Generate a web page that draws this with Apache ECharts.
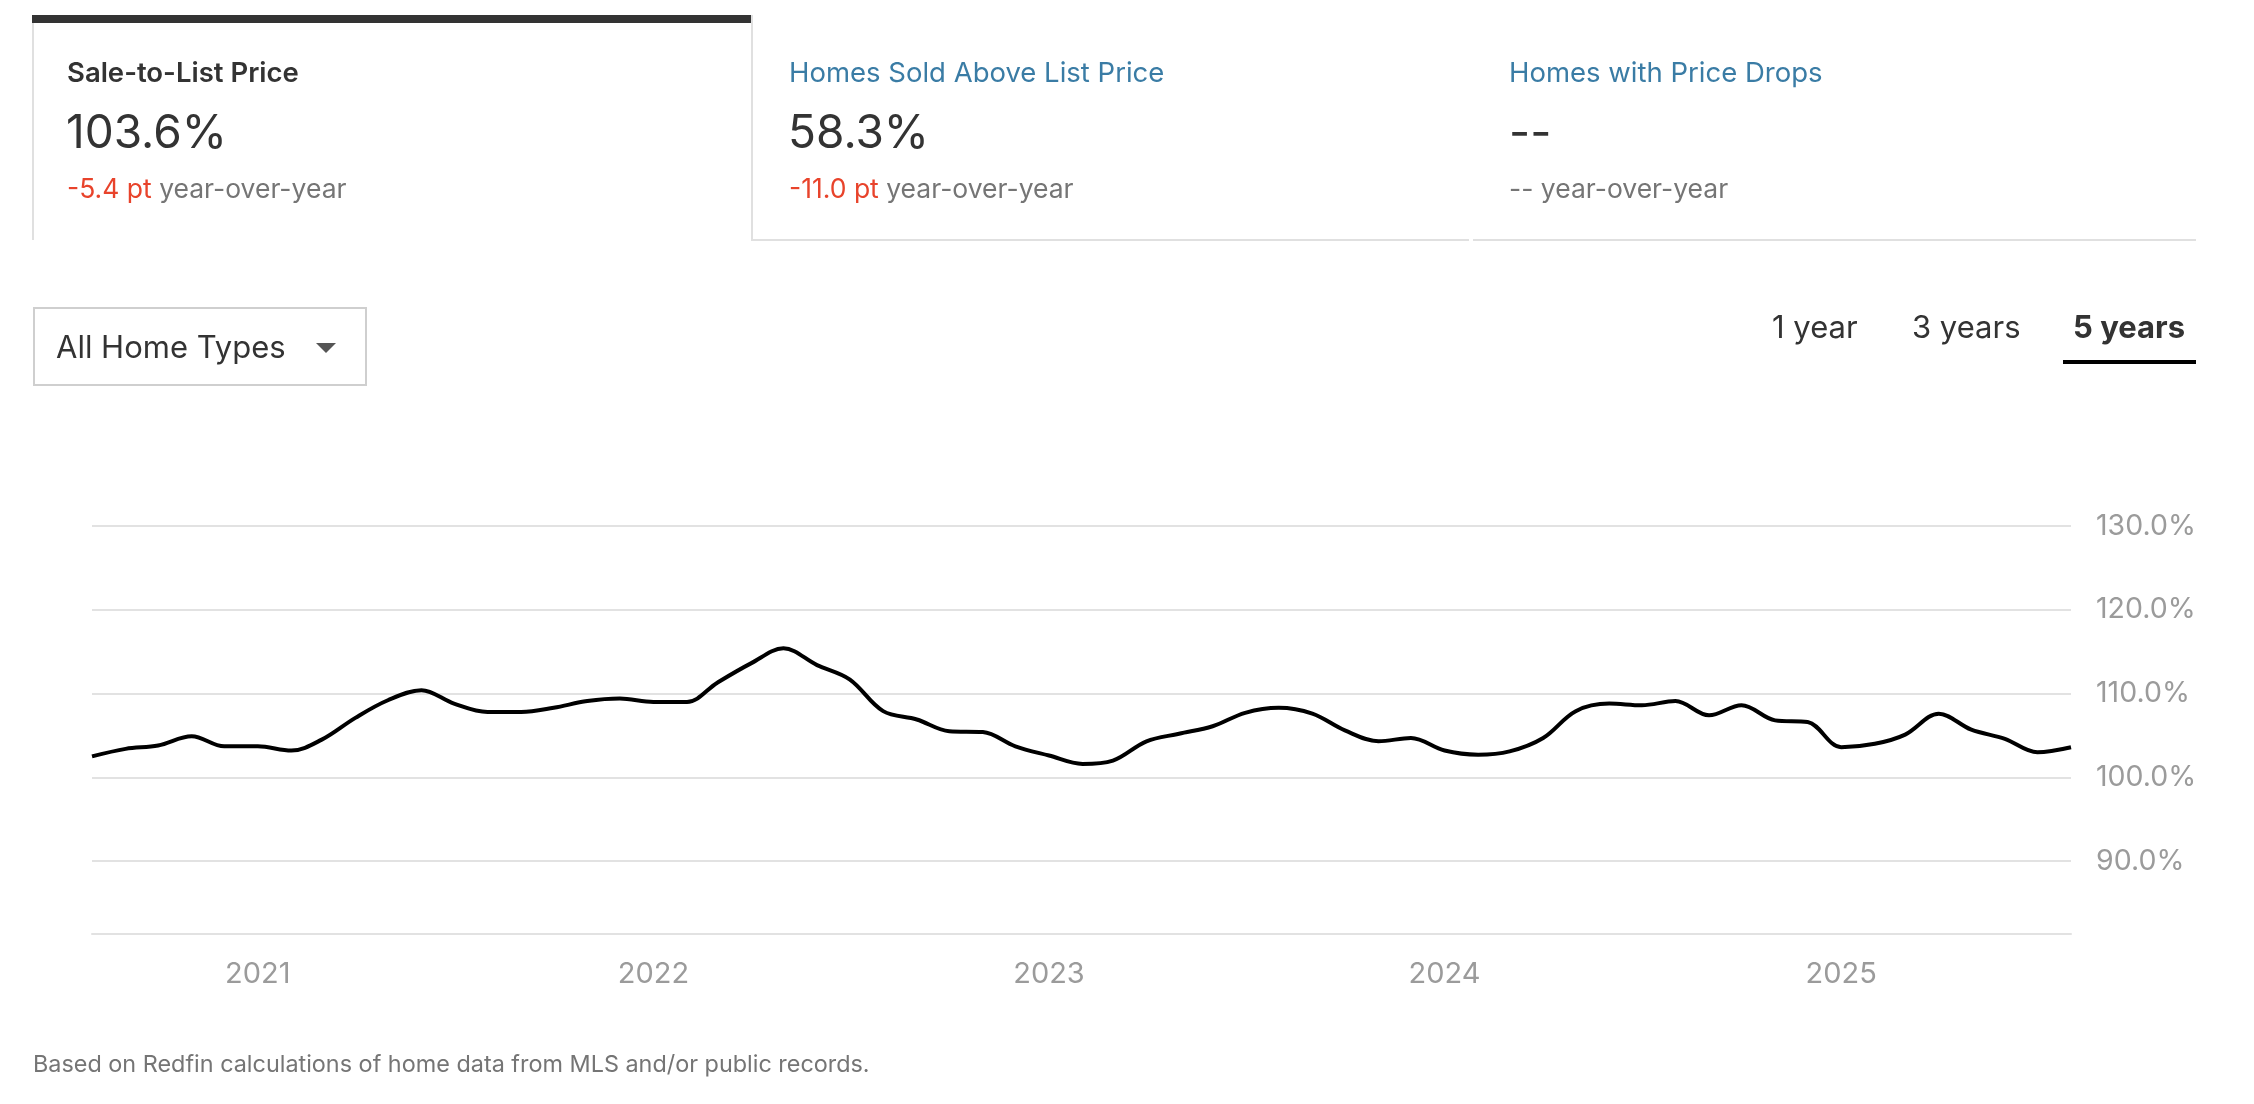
<!DOCTYPE html>
<html>
<head>
<meta charset="utf-8">
<script src="https://cdn.jsdelivr.net/npm/echarts@6/dist/echarts.min.js"></script>
<style>
  html, body { margin: 0; padding: 0; background: #fff; }
  body { width: 2254px; height: 1104px; position: relative; overflow: hidden; font-family: Inter, "Noto Sans", sans-serif; }
  #chart { position: absolute; left: 0; top: 0; width: 2254px; height: 1104px; z-index: 1; }
  .abs { position: absolute; z-index: 2; white-space: nowrap; line-height: 1.2; }
  .tab1 { position: absolute; left: 32px; top: 15px; width: 717px; height: 225px; border-left: 2px solid #e0e0e0; border-right: 2px solid #e0e0e0; z-index: 2; }
  .tab1bar { position: absolute; left: 32px; top: 15px; width: 719px; height: 8px; background: #333; z-index: 3; }
  .tabline { position: absolute; top: 239px; height: 2px; background: #e0e0e0; z-index: 2; }
  .title { font-size: 27.5px; }
  .t1 { color: #333; font-weight: 600; }
  .tl { color: #3a7ca5; }
  .val { font-size: 46px; color: #333; }
  .yoy { font-size: 26.5px; color: #757575; }
  .neg { color: #e8432b; }
  .dd { position: absolute; left: 33px; top: 307px; width: 330px; height: 75px; border: 2px solid #cfcfcf; z-index: 2; }
  .tri { position: absolute; left: 316px; top: 343px; width: 0; height: 0; border-left: 10px solid transparent; border-right: 10px solid transparent; border-top: 10px solid #555; z-index: 3; }
  .tog { font-size: 31px; color: #333; }
  .under { position: absolute; left: 2063px; top: 360px; width: 133px; height: 4px; background: #000; z-index: 2; }
  .foot { font-size: 23.4px; color: #757575; }
</style>
</head>
<body>
<div id="chart"></div>

<div class="tab1"></div>
<div class="tab1bar"></div>
<div class="tabline" style="left:751px;width:718px;"></div>
<div class="tabline" style="left:1473px;width:723px;"></div>

<div class="abs title t1" style="left:67px;top:56px;">Sale-to-List Price</div>
<div class="abs val" style="left:66px;top:104px;">103.6%</div>
<div class="abs yoy" style="left:67px;top:173px;"><span class="neg">-5.4 pt</span> year-over-year</div>

<div class="abs title tl" style="left:789px;top:56px;">Homes Sold Above List Price</div>
<div class="abs val" style="left:788px;top:104px;">58.3%</div>
<div class="abs yoy" style="left:789px;top:173px;"><span class="neg">-11.0 pt</span> year-over-year</div>

<div class="abs title tl" style="left:1509px;top:56px;">Homes with Price Drops</div>
<div class="abs val" style="left:1509px;top:104px;">--</div>
<div class="abs yoy" style="left:1509px;top:173px;">-- year-over-year</div>

<div class="dd"></div>
<div class="abs" style="left:56px;top:328px;font-size:31px;color:#333;">All Home Types</div>
<div class="tri"></div>

<div class="abs tog" style="left:1772px;top:308px;">1 year</div>
<div class="abs tog" style="left:1912px;top:308px;">3 years</div>
<div class="abs tog" style="left:2073px;top:308px;font-weight:700;">5 years</div>
<div class="under"></div>

<div class="abs foot" style="left:33px;top:1050px;">Based on Redfin calculations of home data from MLS and/or public records.</div>

<script>
// ---- data ----
const months = [
  '2020-08','2020-09','2020-10','2020-11','2020-12',
  '2021-01','2021-02','2021-03','2021-04','2021-05','2021-06','2021-07','2021-08','2021-09','2021-10','2021-11','2021-12',
  '2022-01','2022-02','2022-03','2022-04','2022-05','2022-06','2022-07','2022-08','2022-09','2022-10','2022-11','2022-12',
  '2023-01','2023-02','2023-03','2023-04','2023-05','2023-06','2023-07','2023-08','2023-09','2023-10','2023-11','2023-12',
  '2024-01','2024-02','2024-03','2024-04','2024-05','2024-06','2024-07','2024-08','2024-09','2024-10','2024-11','2024-12',
  '2025-01','2025-02','2025-03','2025-04','2025-05','2025-06','2025-07','2025-08'
];
const saleToList = [
  102.5,103.4,103.8,104.9,103.7,
  103.7,103.2,104.5,107.1,109.2,110.4,108.8,107.8,107.8,108.3,109.1,109.4,
  109.0,109.0,111.3,113.6,115.4,113.4,111.7,107.9,106.9,105.5,105.4,103.7,
  102.6,101.6,102.0,104.3,105.2,106.1,107.7,108.3,107.6,105.6,104.3,104.7,
  103.2,102.7,103.1,104.7,107.9,108.8,108.6,109.1,107.4,108.6,106.8,106.6,
  103.6,104.0,105.1,107.6,105.7,104.6,103.0,103.6
];
const yTicks = [90, 100, 110, 120, 130];
const yearTicks = ['2021-01-01','2022-01-01','2023-01-01','2024-01-01','2025-01-01'];

const ts = d => new Date(d + 'T00:00:00').getTime();
const xMin = ts(months[0] + '-01');
const xMax = ts(months[months.length - 1] + '-01');
const yearTs = yearTicks.map(ts);

const chart = echarts.init(document.getElementById('chart'), null, { renderer: 'canvas' });
chart.setOption({
  animation: false,
  backgroundColor: 'transparent',
  textStyle: { fontFamily: 'Inter' },
  grid: { left: 92, top: 526, width: 1979, height: 408, containLabel: false },
  xAxis: {
    type: 'value',
    min: xMin,
    max: xMax,
    axisLine: { show: true, onZero: false, lineStyle: { color: '#e2e2e2', width: 2 } },
    axisTick: { show: false, customValues: yearTs },
    splitLine: { show: false },
    axisLabel: {
      customValues: yearTs,
      formatter: v => String(new Date(v).getFullYear()),
      color: '#9b9b9b',
      fontSize: 29,
      fontFamily: 'Inter',
      margin: 26
    }
  },
  yAxis: {
    type: 'value',
    position: 'right',
    min: 81.3,
    max: 130,
    axisLine: { show: false },
    axisTick: { show: false, customValues: yTicks },
    axisLabel: {
      customValues: yTicks,
      formatter: v => v.toFixed(1) + '%',
      color: '#9b9b9b',
      fontSize: 28.5,
      fontFamily: 'Inter',
      margin: 25,
      align: 'left'
    },
    splitLine: { show: true, lineStyle: { color: '#e2e2e2', width: 2 } }
  },
  series: [{
    type: 'line',
    data: months.map((m, i) => [ts(m + '-01'), saleToList[i]]),
    smooth: 0.35,
    showSymbol: false,
    symbol: 'none',
    lineStyle: { color: '#000', width: 4 }
  }]
});
</script>
</body>
</html>
